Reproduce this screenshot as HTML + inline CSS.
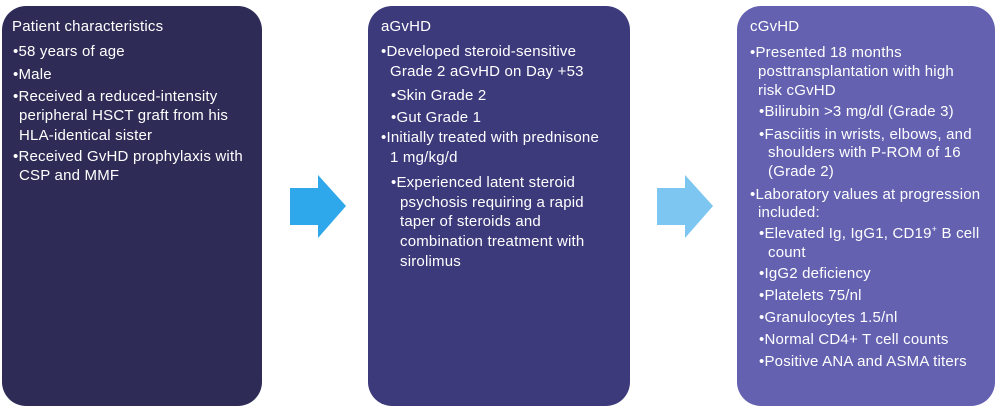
<!DOCTYPE html>
<html><head><meta charset="utf-8"><style>
body{margin:0;width:1000px;height:413px;background:#fff;position:relative;overflow:hidden;font-family:"Liberation Sans",sans-serif;}
.box{position:absolute;top:6px;height:400px;border-radius:24px;}
.t{position:absolute;color:#fff;font-size:15px;white-space:nowrap;line-height:18px;letter-spacing:0.2px;}
</style></head><body>
<div class="box" style="left:2px;width:260px;background:#2e2c56"></div>
<div class="box" style="left:368px;width:262px;background:#3d3a7c"></div>
<div class="box" style="left:737px;width:258px;background:#6461b1"></div>
<svg style="position:absolute;left:0;top:0" width="1000" height="413">
<polygon points="290,188 318,188 318,175 346,206 318,238 318,225 290,225" fill="#2ea7eb"/>
<polygon points="657,188 685,188 685,175 713,206 685,238 685,225 657,225" fill="#7cc6f1"/>
</svg>
<!-- Box 1 -->
<div class="t" style="left:12px;top:18px">Patient characteristics</div>
<div class="t" style="left:13px;top:43px">•58 years of age</div>
<div class="t" style="left:13px;top:66px">•Male</div>
<div class="t" style="left:13px;top:88px">•Received a reduced-intensity</div>
<div class="t" style="left:19px;top:107px">peripheral HSCT graft from his</div>
<div class="t" style="left:19px;top:127px">HLA-identical sister</div>
<div class="t" style="left:13px;top:148px">•Received GvHD prophylaxis with</div>
<div class="t" style="left:19px;top:167px">CSP and MMF</div>
<!-- Box 2 -->
<div class="t" style="left:381px;top:18px">aGvHD</div>
<div class="t" style="left:381px;top:43px">•Developed steroid-sensitive</div>
<div class="t" style="left:390px;top:63px">Grade 2 aGvHD on Day +53</div>
<div class="t" style="left:391px;top:87px">•Skin Grade 2</div>
<div class="t" style="left:391px;top:109px">•Gut Grade 1</div>
<div class="t" style="left:381px;top:129px">•Initially treated with prednisone</div>
<div class="t" style="left:390px;top:149px">1 mg/kg/d</div>
<div class="t" style="left:391px;top:174px">•Experienced latent steroid</div>
<div class="t" style="left:400px;top:194px">psychosis requiring a rapid</div>
<div class="t" style="left:400px;top:213px">taper of steroids and</div>
<div class="t" style="left:400px;top:233px">combination treatment with</div>
<div class="t" style="left:400px;top:253px">sirolimus</div>
<!-- Box 3 -->
<div class="t" style="left:750px;top:18px">cGvHD</div>
<div class="t" style="left:750px;top:44px">•Presented 18 months</div>
<div class="t" style="left:758px;top:63px">posttransplantation with high</div>
<div class="t" style="left:758px;top:82px">risk cGvHD</div>
<div class="t" style="left:759px;top:103px">•Bilirubin &gt;3 mg/dl (Grade 3)</div>
<div class="t" style="left:759px;top:126px">•Fasciitis in wrists, elbows, and</div>
<div class="t" style="left:768px;top:144px">shoulders with P-ROM of 16</div>
<div class="t" style="left:768px;top:163px">(Grade 2)</div>
<div class="t" style="left:750px;top:186px">•Laboratory values at progression</div>
<div class="t" style="left:758px;top:204px">included:</div>
<div class="t" style="left:759px;top:225px">•Elevated Ig, IgG1, CD19<sup style="font-size:9px;line-height:0">+</sup> B cell</div>
<div class="t" style="left:768px;top:244px">count</div>
<div class="t" style="left:759px;top:265px">•IgG2 deficiency</div>
<div class="t" style="left:759px;top:287px">•Platelets 75/nl</div>
<div class="t" style="left:759px;top:309px">•Granulocytes 1.5/nl</div>
<div class="t" style="left:759px;top:331px">•Normal CD4+ T cell counts</div>
<div class="t" style="left:759px;top:353px">•Positive ANA and ASMA titers</div>
</body></html>
